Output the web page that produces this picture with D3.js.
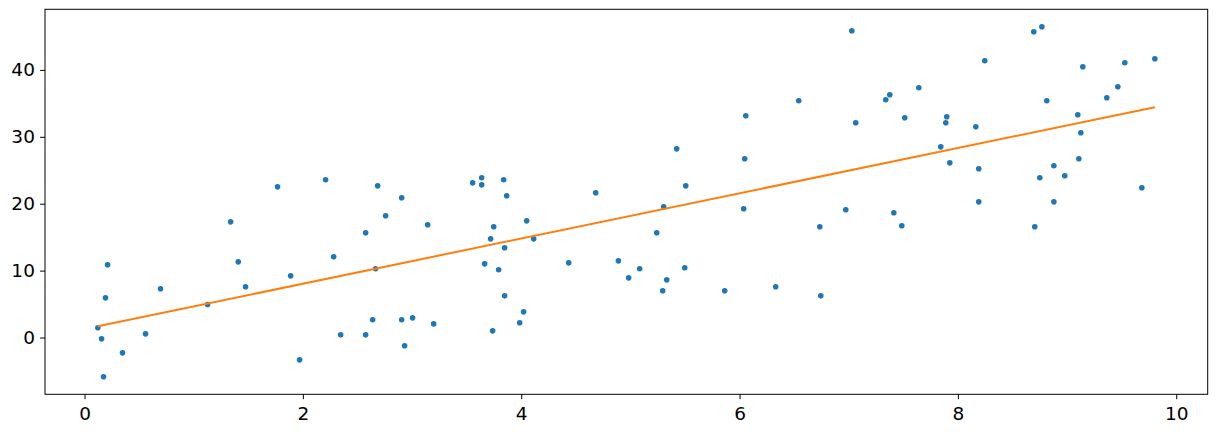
<!DOCTYPE html>
<html>
<head>
<meta charset="utf-8">
<script src="https://cdn.jsdelivr.net/npm/d3@7"></script>
<style>
    html, body { margin: 0; padding: 0; background: #fff; }
    svg text { font-family: "DejaVu Sans", sans-serif; fill: #000; }
</style>
</head>
<body>
<svg id="chart" width="1216" height="433"></svg>
<script>
// scatter points (x, y)
let xs = [0.122, 0.156, 0.174, 0.192, 0.211, 0.348, 0.559, 0.696, 1.127, 1.338,
    1.408, 1.475, 1.768, 1.888, 1.970, 2.208, 2.282, 2.346, 2.575, 2.575,
    2.639, 2.666, 2.685, 2.758, 2.905, 2.905, 2.932, 3.005, 3.143, 3.198,
    3.555, 3.638, 3.638, 3.665, 3.720, 3.738, 3.748, 3.793, 3.839, 3.848,
    3.848, 3.867, 3.986, 4.022, 4.050, 4.114, 4.435, 4.682, 4.890, 4.984,
    5.085, 5.241, 5.296, 5.305, 5.333, 5.424, 5.498, 5.507, 5.864, 6.038,
    6.047, 6.057, 6.331, 6.542, 6.735, 6.744, 6.973, 7.028, 7.064, 7.339,
    7.376, 7.413, 7.486, 7.513, 7.642, 7.843, 7.889, 7.898, 7.926, 8.164,
    8.191, 8.191, 8.246, 8.695, 8.704, 8.750, 8.769, 8.814, 8.879, 8.879,
    8.979, 9.098, 9.108, 9.126, 9.144, 9.364, 9.465, 9.529, 9.685, 9.804];
let ys = [1.45, -0.20, -5.87, 5.93, 10.87, -2.29, 0.55, 7.28, 4.93, 17.29,
    11.31, 7.58, 22.52, 9.22, -3.34, 23.57, 12.06, 0.40, 15.65, 0.40,
    2.65, 10.27, 22.67, 18.19, 20.88, 2.65, -1.24, 2.94, 16.85, 2.04,
    23.12, 23.87, 22.82, 11.01, 14.75, 1.00, 16.55, 10.12, 23.57, 13.41,
    6.23, 21.18, 2.20, 3.84, 17.44, 14.75, 11.16, 21.63, 11.46, 8.92,
    10.27, 15.65, 6.98, 19.54, 8.62, 28.20, 10.42, 22.67, 6.98, 19.24,
    26.71, 33.14, 7.58, 35.38, 16.55, 6.23, 19.09, 45.84, 32.09, 35.53,
    36.28, 18.64, 16.70, 32.84, 37.32, 28.50, 32.09, 32.99, 26.11, 31.49,
    25.22, 20.28, 41.36, 45.69, 16.55, 23.87, 46.44, 35.38, 25.67, 20.28,
    24.17, 33.29, 26.71, 30.60, 40.46, 35.83, 37.47, 41.06, 22.38, 41.66];

// fitted line end points
let fitX = [0.122, 9.804];
let fitY = [1.69, 34.42];

let xTicks = [0, 2, 4, 6, 8, 10];
let yTicks = [0, 10, 20, 30, 40];

let margin = { top: 9.3, right: 8.3, bottom: 38.7, left: 45 };
let width = 1216, height = 433;

let svg = d3.select("#chart");

// matplotlib style 5% padding around the data
function padded(ext) {
    let d = (ext[1] - ext[0]) * 0.05;
    return [ext[0] - d, ext[1] + d];
}

let x = d3.scaleLinear()
    .domain(padded(d3.extent(xs)))
    .range([margin.left, width - margin.right]);
let y = d3.scaleLinear()
    .domain(padded(d3.extent(ys)))
    .range([height - margin.bottom, margin.top]);

let xAxis = d3.axisBottom(x).tickValues(xTicks).tickFormat(d3.format("d"))
    .tickSize(4.9).tickPadding(7.2).tickSizeOuter(0);
let yAxis = d3.axisLeft(y).tickValues(yTicks).tickFormat(d3.format("d"))
    .tickSize(4.9).tickPadding(5.2).tickSizeOuter(0);

let gx = svg.append("g")
    .attr("transform", "translate(0," + (height - margin.bottom) + ")")
    .call(xAxis);
let gy = svg.append("g")
    .attr("transform", "translate(" + margin.left + ",0)")
    .call(yAxis);
[gx, gy].forEach(g => {
    g.select(".domain").remove();
    g.selectAll(".tick line").attr("stroke", "#000").attr("stroke-width", 1);
    g.selectAll(".tick text").style("font-size", "18.5px").attr("fill", "#000");
});

// points
svg.append("g")
    .selectAll("circle")
    .data(xs)
    .join("circle")
    .attr("cx", d => x(d))
    .attr("cy", (d, i) => y(ys[i]))
    .attr("r", 2.8)
    .attr("fill", "#1f77b4");

// regression line
svg.append("path")
    .datum(fitX)
    .attr("fill", "none")
    .attr("stroke", "#ff7f0e")
    .attr("stroke-width", 2)
    .attr("d", d3.line().x(d => x(d)).y((d, i) => y(fitY[i])));

// frame
svg.append("rect")
    .attr("x", margin.left)
    .attr("y", margin.top)
    .attr("width", width - margin.left - margin.right)
    .attr("height", height - margin.top - margin.bottom)
    .attr("fill", "none")
    .attr("stroke", "#000")
    .attr("stroke-width", 1);
</script>
</body>
</html>
